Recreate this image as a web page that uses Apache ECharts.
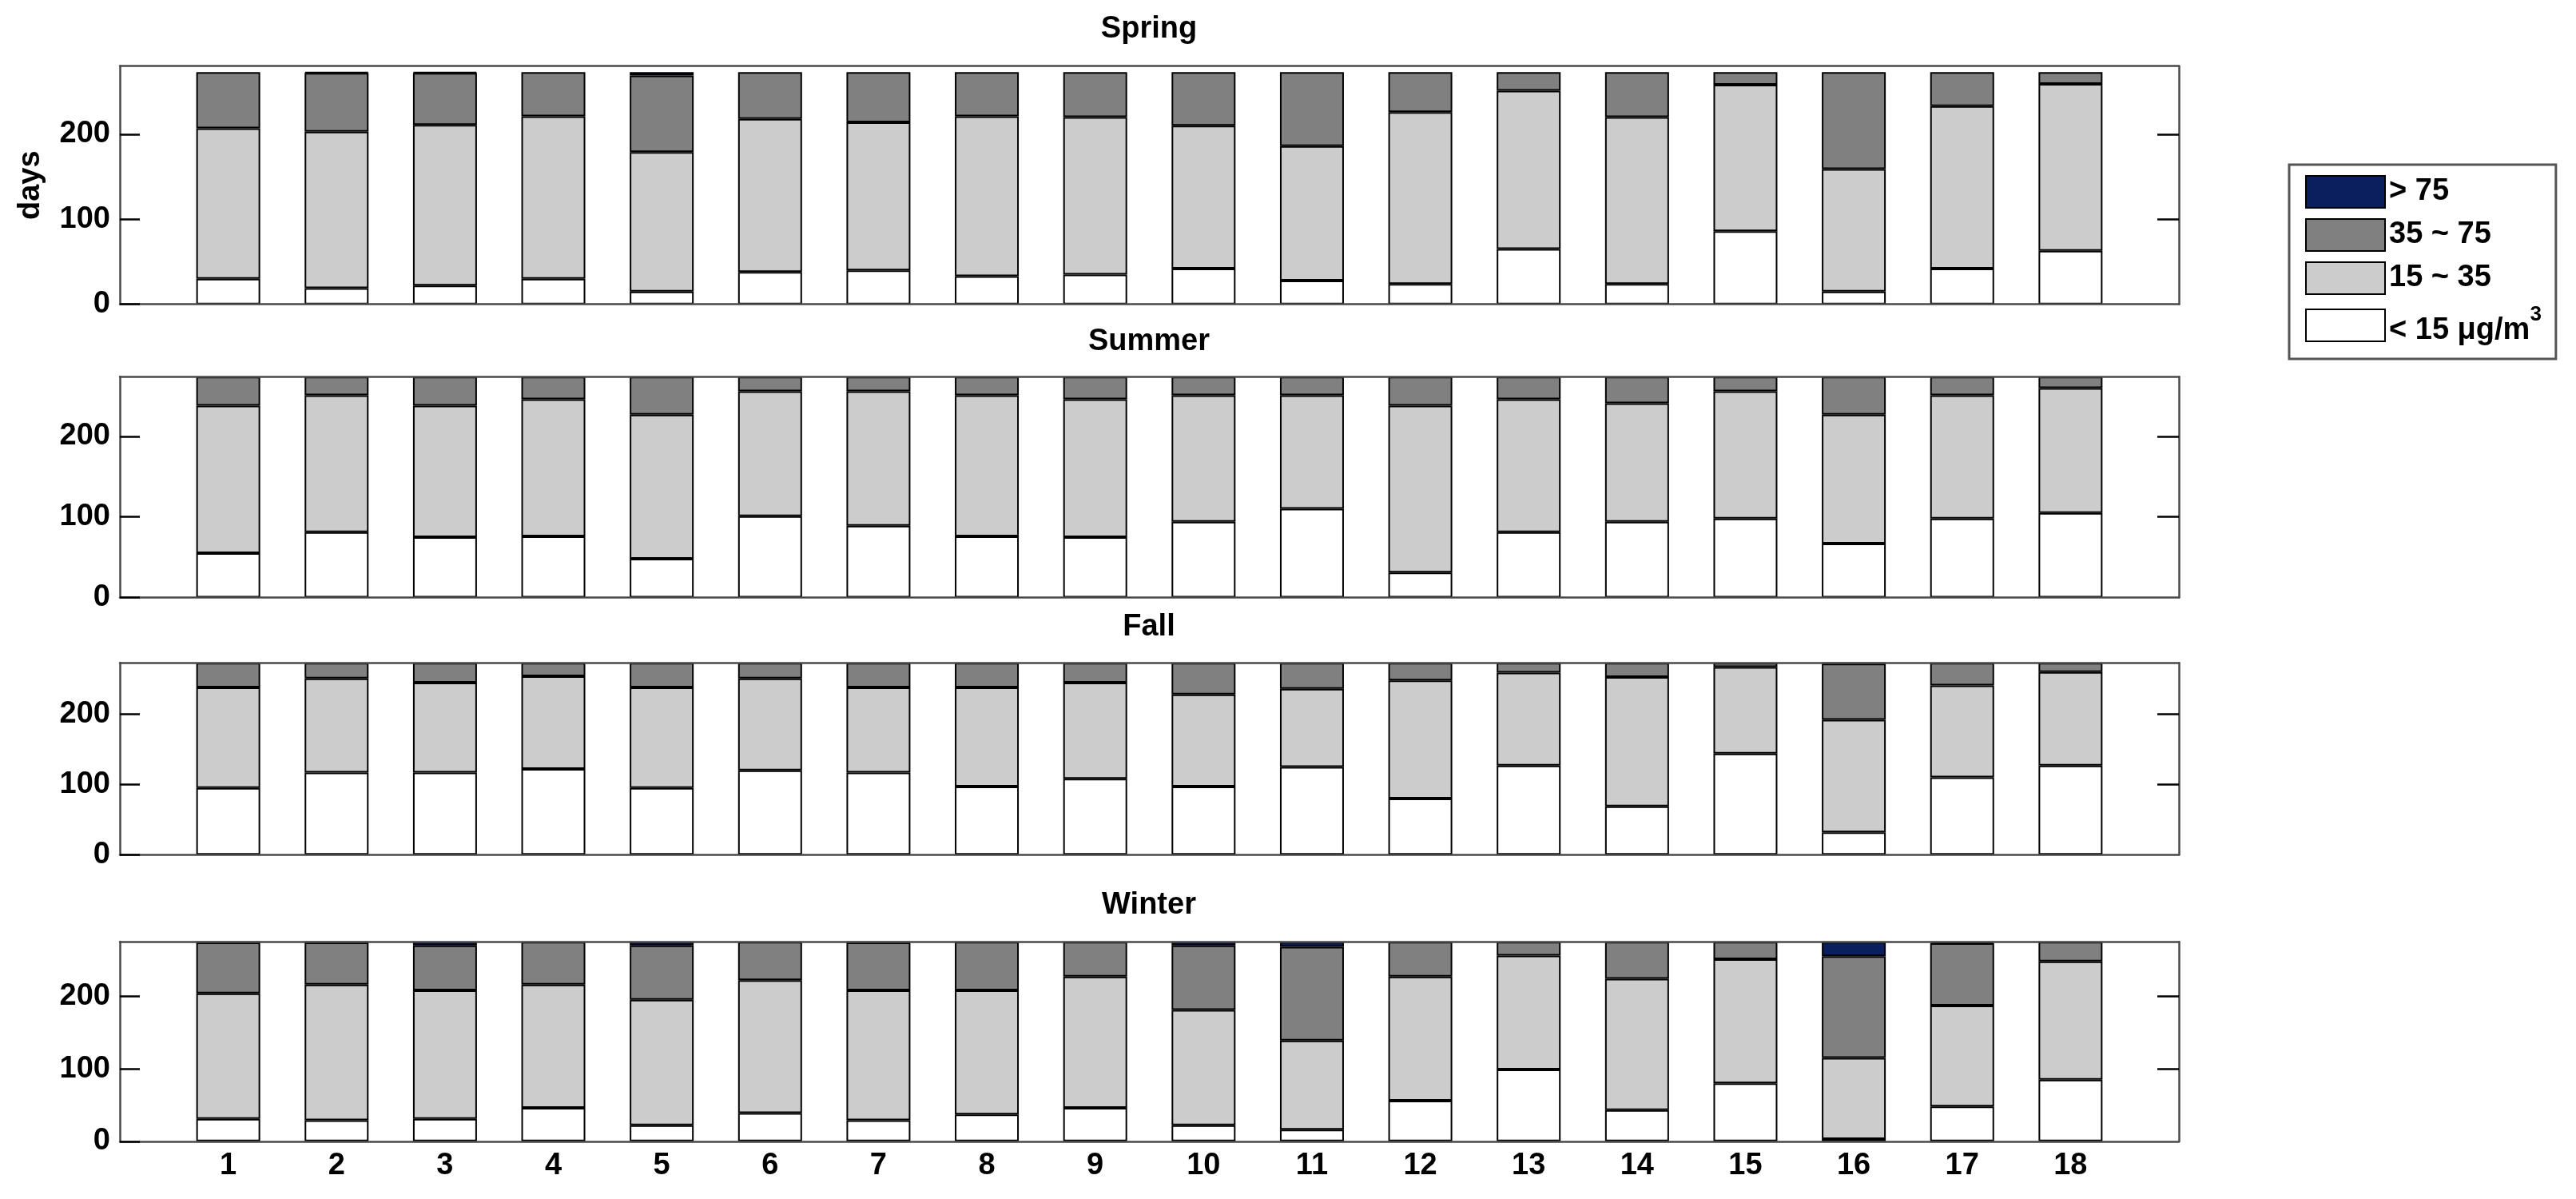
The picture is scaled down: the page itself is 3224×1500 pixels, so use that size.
<!DOCTYPE html>
<html><head><meta charset="utf-8">
<script src="https://cdn.jsdelivr.net/npm/echarts@6/dist/echarts.min.js"></script>
<style>html,body{margin:0;padding:0;background:#fff}#c{width:3224px;height:1500px}</style>
</head><body><div id="c"></div>
<script>
// ---- data ----
const stations = ['1','2','3','4','5','6','7','8','9','10','11','12','13','14','15','16','17','18'];
const seasons = ['Spring','Summer','Fall','Winter'];
const binNames = ['< 15 μg/m³','15 ~ 35','35 ~ 75','> 75'];
const legendOrder = ['> 75','35 ~ 75','15 ~ 35','< 15 μg/m³'];
const yTickValues = [0,100,200];
const yMax = [280, 274, 273, 275];

// days per bin, per station
const springLt15 = [30,19,22,30,15,38,40,33,35,42,28,24,65,24,86,15,42,63];
const spring15_35 = [177,184,189,191,164,180,174,188,185,168,158,202,186,196,172,144,191,196];
const spring35_75 = [66,69,61,52,90,55,59,52,53,63,87,47,22,53,15,114,40,14];
const springGt75 = [0,1,1,0,4,0,0,0,0,0,0,0,0,0,0,0,0,0];

const summerLt15 = [55,81,75,76,48,101,89,76,75,94,110,31,81,94,98,67,98,105];
const summer15_35 = [183,170,163,170,179,155,167,175,171,157,141,207,165,147,158,160,153,155];
const summer35_75 = [36,23,36,28,47,18,18,23,28,23,23,36,28,33,18,47,23,14];
const summerGt75 = [0,0,0,0,0,0,0,0,0,0,0,0,0,0,0,0,0,0];

const fallLt15 = [95,117,117,122,95,120,117,97,108,97,125,80,127,69,144,32,110,127];
const fall15_35 = [143,134,128,132,143,131,121,141,137,131,111,168,132,184,123,160,131,133];
const fall35_75 = [35,22,28,19,35,22,35,35,28,45,37,25,14,20,6,80,32,13];
const fallGt75 = [0,0,0,0,0,0,0,0,0,0,0,0,0,0,0,1,0,0];

const winterLt15 = [31,29,31,46,22,39,29,37,46,22,16,56,99,43,80,3,48,85];
const winter15_35 = [173,187,177,170,173,183,179,171,181,159,123,171,157,181,171,112,139,163];
const winter35_75 = [70,58,62,59,75,53,66,67,48,89,129,48,19,51,24,140,86,27];
const winterGt75 = [1,1,5,0,5,0,1,0,0,5,7,0,0,0,0,20,2,0];

const seasonData = [
  [springLt15, spring15_35, spring35_75, springGt75],
  [summerLt15, summer15_35, summer35_75, summerGt75],
  [fallLt15, fall15_35, fall35_75, fallGt75],
  [winterLt15, winter15_35, winter35_75, winterGt75]
];

// ---- layout / style ----
const binColors = ['#ffffff','#cccccc','#808080','#0b1f5e'];
const panels = [
  {top: 82.7, height: 298, titleTop: 18},
  {top: 471.3, height: 276.2, titleTop: 409},
  {top: 829.3, height: 240, titleTop: 766},
  {top: 1178.2, height: 249.6, titleTop: 1113.5}
];
const FONT = 'Liberation Sans';
const FS = 38;
const boxLine = {color: '#4a4a4a', width: 2.5};
const xCats = [''].concat(stations).concat(['']);

const grid = [], xAxis = [], yAxis = [], series = [], title = [];
panels.forEach((p, s) => {
  grid.push({left: 150, right: 497, top: p.top, height: p.height, containLabel: false});
  title.push({text: seasons[s], left: 1438, top: p.titleTop, textAlign: 'center', padding: 0,
    textStyle: {fontSize: FS, fontWeight: 'bold', fontFamily: FONT, color: '#000'}});
  xAxis.push({type: 'category', gridIndex: s, data: xCats, boundaryGap: false, position: 'bottom', z: 3,
    axisLine: {show: true, onZero: false, lineStyle: boxLine}, axisTick: {show: false},
    axisLabel: {show: s === 3, interval: 0, margin: 12, fontSize: FS, fontWeight: 'bold', fontFamily: FONT, color: '#000'},
    splitLine: {show: false}});
  xAxis.push({type: 'category', gridIndex: s, data: xCats, boundaryGap: false, position: 'top', z: 3,
    axisLine: {show: true, onZero: false, lineStyle: boxLine}, axisTick: {show: false},
    axisLabel: {show: false}, splitLine: {show: false}});
  yAxis.push({type: 'value', gridIndex: s, min: 0, max: yMax[s], interval: 100, position: 'left', z: 3,
    name: s === 0 ? 'days' : '', nameLocation: 'middle', nameRotate: 90, nameGap: 92,
    nameTextStyle: {fontSize: FS, fontWeight: 'bold', fontFamily: FONT, color: '#000'},
    axisLine: {show: true, onZero: false, lineStyle: boxLine},
    axisTick: {show: true, inside: true, length: 25, customValues: yTickValues, lineStyle: {color: '#000', width: 2.5}},
    axisLabel: {show: true, margin: 12, customValues: yTickValues, fontSize: FS, fontWeight: 'bold', fontFamily: FONT, color: '#000',
      formatter: v => (v % 100 === 0 ? String(v) : '')},
    splitLine: {show: false}});
  yAxis.push({type: 'value', gridIndex: s, min: 0, max: yMax[s], interval: 100, position: 'right', z: 3,
    axisLine: {show: true, onZero: false, lineStyle: boxLine},
    axisTick: {show: true, inside: true, length: 27, customValues: [100, 200], lineStyle: {color: '#000', width: 2.5}},
    axisLabel: {show: false}, splitLine: {show: false}});
  seasonData[s].forEach((vals, b) => {
    series.push({type: 'bar', name: binNames[b], xAxisIndex: 2 * s, yAxisIndex: 2 * s, stack: 'st' + s,
      barWidth: 80, silent: true,
      itemStyle: {color: binColors[b], borderColor: '#000', borderWidth: 2},
      data: ['-'].concat(vals.map(v => (v === 0 ? '-' : v))).concat(['-'])});
  });
});

const chart = echarts.init(document.getElementById('c'), null, {renderer: 'canvas'});
chart.setOption({
  animation: false,
  backgroundColor: '#fff',
  title: title,
  grid: grid,
  xAxis: xAxis,
  yAxis: yAxis,
  legend: {
    data: legendOrder, orient: 'vertical', left: 2865, top: 206,
    itemWidth: 99, itemHeight: 40, itemGap: 12, selectedMode: false, icon: 'rect',
    padding: [13, 18, 16, 20], borderColor: '#555', borderWidth: 3, backgroundColor: '#fff',
    itemStyle: {borderColor: '#000', borderWidth: 2},
    formatter: name => (name === binNames[0] ? '{b|< 15 μg/m}{sup|3}' : name),
    textStyle: {fontSize: FS, fontWeight: 'bold', fontFamily: FONT, color: '#000',
      rich: {
        b: {fontSize: FS, fontWeight: 'bold', fontFamily: FONT, color: '#000', padding: [14, 0, 0, 0]},
        sup: {fontSize: 26, fontWeight: 'bold', fontFamily: FONT, color: '#000', verticalAlign: 'top'}
      }}
  },
  series: series
});
</script></body></html>
